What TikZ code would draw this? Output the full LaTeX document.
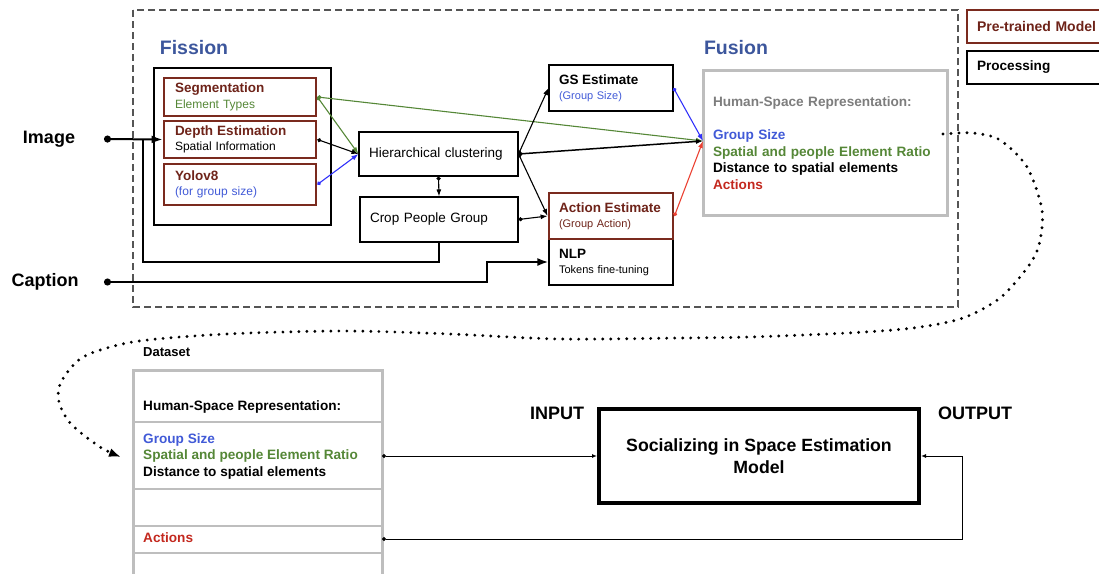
\documentclass[tikz,border=0pt]{standalone}
\usepackage{fontspec}
\setmainfont{Liberation Sans}
\usetikzlibrary{arrows.meta}

\definecolor{fisblue}{RGB}{60,86,156}
\definecolor{brn}{RGB}{122,42,30}
\definecolor{brntxt}{RGB}{110,35,25}
\definecolor{grn}{RGB}{85,135,55}
\definecolor{blu}{RGB}{65,90,215}
\definecolor{bluln}{RGB}{50,50,250}
\definecolor{redtx}{RGB}{195,40,30}
\definecolor{redln}{RGB}{235,65,50}
\definecolor{gbox}{RGB}{190,190,190}
\definecolor{gtxt}{RGB}{125,125,125}
\definecolor{dgray}{RGB}{85,85,85}

\newcommand\fsz[2]{\fontsize{#1}{#2}\selectfont}

\tikzset{
  pre/.style={draw=brn, line width=2.8pt, inner sep=0pt, align=left},
  proc/.style={draw=black, line width=1.1pt, inner sep=0pt, align=left},
  grp/.style={draw=gbox, line width=3pt, inner sep=0pt, align=left},
  conn/.style={line width=1.1pt, arrows={Circle[length=4pt]-Latex[length=7pt,width=5pt]}},
  thinconn/.style={line width=1pt, arrows={Circle[length=4pt]-Latex[length=5pt,width=4pt]}},
  bigconn/.style={line width=2pt, arrows={Circle[length=7pt]-Latex[length=11pt,width=8pt]}},
  title/.style={font=\bfseries\fsz{19.5}{22}, text=fisblue},
  biglabel/.style={font=\bfseries\fsz{18}{20}},
  rep/.style={font=\bfseries\fsz{13.6}{16.5}, align=left},
  legend/.style={minimum width=150pt, minimum height=33pt, text width=130pt},
  dotline/.style={line width=3.2pt, line cap=round, dash pattern=on 0pt off 8pt,
    -{Latex[length=12pt,width=9pt]}}
}

\begin{document}
\begin{tikzpicture}[x=1pt, y=-1pt]
\useasboundingbox (0,0) rectangle (1099,573);

% dashed frame around the fission / fusion stage
\draw[dgray, line width=1.5pt, dash pattern=on 7pt off 4pt] (133,10) rectangle (958,307);

% legend (boxes run on past the right edge)
\node[pre, legend, font=\bfseries\fsz{14}{15}, text=brntxt] (legpre) at (1042,26.5) {Pre-trained Model};
\node[proc, legend, font=\bfseries\fsz{13.6}{15}] (legproc) at (1042,67.5) {Processing};

% section titles
\node[title] (fistitle) at (194,48) {Fission};
\node[title] (futitle) at (736,48) {Fusion};

% inputs
\node[biglabel] (img) at (49,139) {Image};
\node[biglabel] (cap) at (45,282) {Caption};
\coordinate (imgdot) at (104,139);
\coordinate (capdot) at (104,282);

% fission stage
\node[proc, minimum width=177pt, minimum height=157pt] (fisbox) at (242.5,146.5) {};
\node[pre, font=\fsz{12}{15.5}, minimum width=152pt, minimum height=38pt, text width=130pt] (seg) at (240,97)
  {{\bfseries\fsz{13.5}{15.5}\color{brntxt}Segmentation}\\{\color{grn}Element Types}};
\node[pre, font=\fsz{12}{15.5}, minimum width=152pt, minimum height=37pt, text width=130pt] (depth) at (240,139.5)
  {{\bfseries\fsz{13.5}{15.5}\color{brntxt}Depth Estimation}\\Spatial Information};
\node[pre, font=\fsz{12}{15.5}, minimum width=152pt, minimum height=41pt, text width=130pt] (yolo) at (240,184.5)
  {{\bfseries\fsz{13.5}{15.5}\color{brntxt}Yolov8}\\{\color{blu}(for group size)}};

\node[proc, minimum width=159pt, minimum height=44pt, text width=139pt, font=\fsz{13.5}{15}] (hier) at (438.5,154) {Hierarchical clustering};
\node[proc, minimum width=158pt, minimum height=45pt, text width=138pt, font=\fsz{13.5}{15}] (crop) at (439,219.5) {Crop People Group};

\node[proc, minimum width=124pt, minimum height=46pt, text width=104pt, font=\fsz{11}{15}] (gs) at (611,88)
  {{\bfseries\fsz{13.5}{15}GS Estimate}\\{\color{blu}(Group Size)}};
\node[proc, minimum width=124pt, minimum height=46pt, text width=104pt, font=\fsz{11}{15}] (nlp) at (611,262)
  {{\bfseries\fsz{13.5}{15}NLP}\\Tokens fine-tuning};
\node[pre, minimum width=124pt, minimum height=46pt, text width=104pt, font=\fsz{11}{15}, text=brntxt] (act) at (611,216)
  {{\bfseries\fsz{13.5}{15}Action Estimate}\\(Group Action)};

% fusion stage
\node[grp, rep, minimum width=244pt, minimum height=145pt, text width=224pt] (fu) at (825,143)
  {{\color{gtxt}Human-Space Representation:}\\[16.5pt]
   {\color{blu}Group Size}\\
   {\color{grn}Spatial and people Element Ratio}\\
   Distance to spatial elements\\
   {\color{redtx}Actions}};

% connectors of the fission / fusion stage
\draw[bigconn] (imgdot) -- (depth.west);
\coordinate (fbcorner) at (143,262);
\coordinate (fbjoin) at (143,139);
\draw[line width=2pt] (crop.south) |- (fbcorner) -- (fbjoin);
\coordinate (capturn) at (487,282);
\draw[bigconn] (capdot) -- (capturn) |- (nlp.west);

\coordinate (fuin) at (703,141);
\draw[conn, grn] (seg.east) -- (hier.west);
\draw[conn] (depth.east) -- (hier.west);
\draw[conn, bluln] (yolo.east) -- (hier.west);
\draw[conn, grn] (seg.east) -- (fuin);

\draw[conn] (hier.east) -- (gs.west);
\draw[conn] (hier.east) -- (act.west);
\draw[conn, line width=1.5pt] (hier.east) -- (fuin);
\draw[conn] (hier.south) -- (crop.north);
\draw[conn] (crop.east) -- (act.west);

\draw[conn, bluln] (gs.east) -- (fuin);
\draw[conn, redln] (act.east) -- (fuin);

% dataset table
\node[font=\bfseries\fsz{13}{15}, anchor=west, inner sep=0pt] (dslabel) at (143,352) {Dataset};
\node[draw=gbox, line width=3pt, minimum width=249pt, minimum height=240pt, inner sep=0pt] (ds) at (257.5,490) {};
\draw[gbox, line width=2pt] (133,422) -- (382,422);
\draw[gbox, line width=2pt] (133,489) -- (382,489);
\draw[gbox, line width=2pt] (133,526) -- (382,526);
\draw[gbox, line width=2pt] (133,553) -- (382,553);
\node[rep, anchor=west, inner sep=0pt] (dsrep) at (143,407) {Human-Space Representation:};
\node[rep, anchor=west, inner sep=0pt] (dsfeat) at (143,456)
  {{\color{blu}Group Size}\\{\color{grn}Spatial and people Element Ratio}\\Distance to spatial elements};
\node[rep, anchor=west, inner sep=0pt, text=redtx] (dsact) at (143,538) {Actions};

% estimation model
\node[draw, line width=4pt, minimum width=320pt, minimum height=94pt, align=center,
      font=\bfseries\fsz{17.7}{22}] (model) at (759,456) {Socializing in Space Estimation\\Model};
\node[biglabel] (inlab) at (557,413) {INPUT};
\node[biglabel] (outlab) at (975,413) {OUTPUT};

\coordinate (dsin) at (382,456);
\coordinate (dsout) at (382,539);
\coordinate (outturn) at (962,539);
\draw[thinconn] (dsin) -- (model.west);
\draw[thinconn] (dsout) -- (outturn) |- (model.east);

% dotted link from the fusion representation down to the dataset
\coordinate (dotstart) at (943,134);
\coordinate (dotend) at (121,457);
\draw[dotline] plot[smooth, tension=0.5] coordinates {
  (dotstart) (973,133) (1000,140) (1027,167) (1042,210) (1039,245) (1027,268)
  (1000,298) (963,318) (913,328) (847,333) (750,337) (680,338) (560,339)
  (450,334) (350,331) (250,333) (180,337) (127,343) (83,357) (61,382)
  (59,402) (71,424) (100,447) (dotend)};
\end{tikzpicture}
\end{document}
